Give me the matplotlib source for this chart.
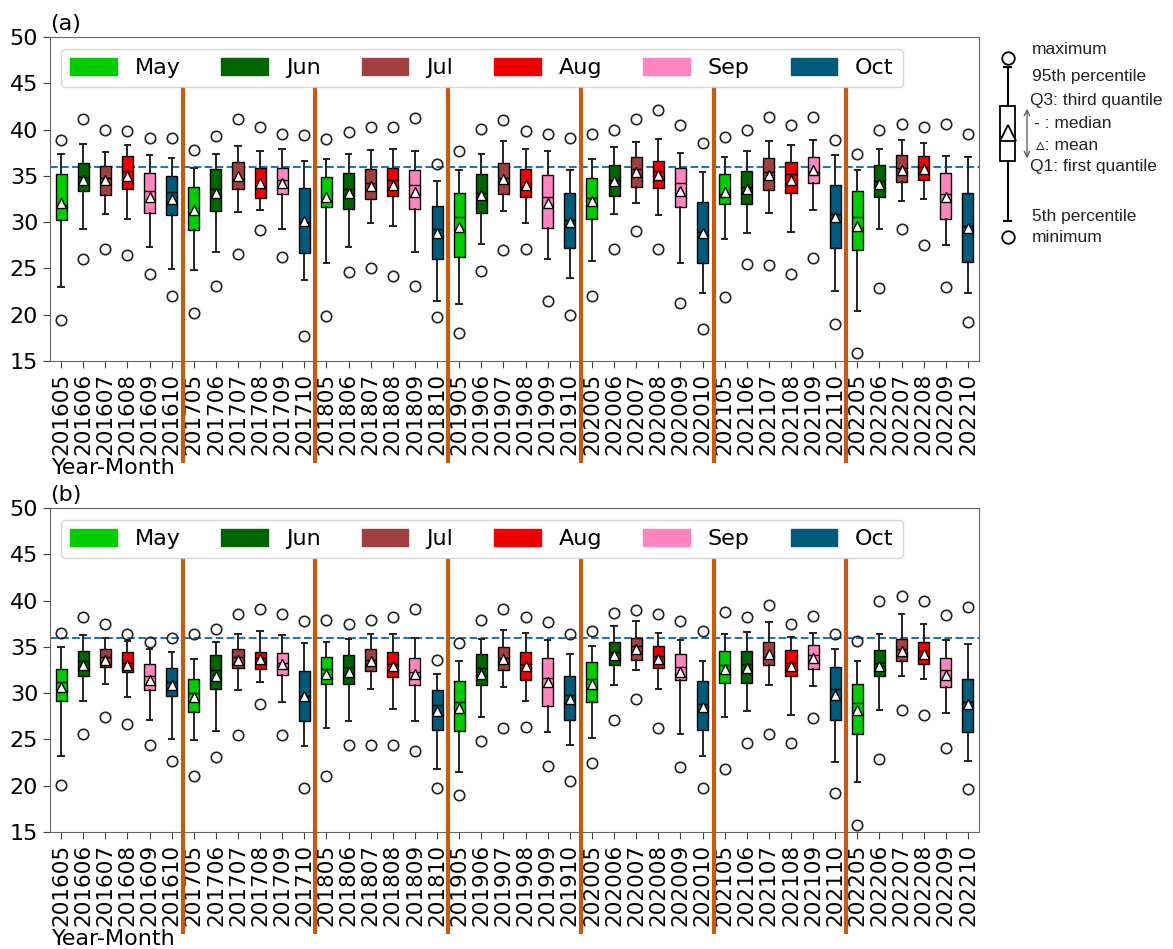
import numpy as np
import matplotlib.pyplot as plt
from matplotlib.patches import Patch, FancyArrowPatch

years = [2016, 2017, 2018, 2019, 2020, 2021, 2022]
months = ["05", "06", "07", "08", "09", "10"]
month_names = ["May", "Jun", "Jul", "Aug", "Sep", "Oct"]
month_colors = ["#00cc00", "#006400", "#a0403f", "#ee0000", "#ff85c0", "#005a7a"]
labels = [f"{y}{m}" for y in years for m in months]
threshold = 36

# panel (a)
a_max = [38.85, 41.1, 39.9, 39.8, 39.1, 39.05, 37.8, 39.3, 41.1, 40.3, 39.55, 39.4,
         38.95, 39.7, 40.3, 40.3, 41.2, 36.3, 37.7, 40.1, 41.0, 39.85, 39.55, 39.1,
         39.55, 39.9, 41.1, 42.15, 40.45, 38.5, 39.15, 39.9, 41.35, 40.5, 41.35, 38.9,
         37.35, 39.9, 40.65, 40.3, 40.6, 39.55]
a_p95 = [37.4, 38.45, 37.6, 38.3, 37.2, 36.9, 35.9, 37.4, 38.25, 37.7, 37.85, 36.65,
         36.8, 37.35, 37.8, 37.85, 37.65, 34.45, 35.6, 37.4, 38.8, 37.85, 37.65, 35.6,
         36.85, 38.1, 38.65, 39.0, 37.5, 35.45, 37.05, 37.7, 38.8, 38.3, 38.85, 37.2,
         35.6, 37.85, 38.9, 38.6, 37.1, 37.05]
a_q3 = [35.15, 36.4, 36.1, 37.1, 35.35, 34.95, 33.8, 35.7, 36.45, 35.8, 35.9, 33.65,
        34.9, 35.35, 35.7, 35.8, 35.6, 31.75, 33.1, 35.25, 36.4, 35.7, 35.05, 33.15,
        34.8, 36.15, 37.0, 36.6, 35.9, 32.2, 35.15, 35.55, 36.9, 36.5, 37.0, 34.0,
        33.35, 36.2, 37.2, 37.1, 35.3, 33.2]
a_med = [31.8, 34.9, 34.8, 35.5, 33.4, 33.3, 30.95, 33.6, 34.7, 33.8, 34.6, 30.0,
         32.3, 33.55, 34.25, 34.6, 34.0, 29.3, 30.6, 33.1, 34.8, 33.8, 32.75, 30.2,
         32.6, 34.6, 35.7, 35.5, 34.25, 28.9, 33.0, 33.8, 35.4, 35.2, 35.4, 30.9,
         30.6, 34.4, 35.9, 36.0, 33.0, 29.6]
a_mean = [32.1, 34.5, 34.5, 35.0, 32.75, 32.45, 31.3, 33.1, 35.0, 34.25, 34.2, 30.1,
          32.75, 33.15, 33.95, 34.05, 33.3, 28.8, 29.5, 32.9, 34.65, 34.05, 32.1, 30.05,
          32.25, 34.4, 35.4, 35.1, 33.4, 28.8, 33.25, 33.55, 35.1, 34.6, 35.6, 30.6,
          29.6, 34.1, 35.6, 35.7, 32.75, 29.4]
a_q1 = [30.2, 33.35, 32.9, 33.6, 30.95, 30.75, 29.15, 31.2, 33.55, 32.65, 33.0, 26.7,
        31.6, 31.4, 32.5, 32.8, 31.4, 26.05, 26.25, 31.0, 33.0, 32.75, 29.4, 27.25,
        30.3, 32.8, 33.8, 33.7, 31.65, 25.6, 31.95, 31.95, 33.45, 33.1, 34.25, 27.25,
        26.95, 32.75, 34.35, 34.55, 30.3, 25.7]
a_p5 = [22.95, 29.25, 30.9, 30.35, 27.35, 24.9, 24.8, 26.8, 31.05, 31.35, 29.3, 23.8,
        25.6, 27.35, 29.95, 29.55, 26.8, 21.5, 21.15, 27.6, 31.2, 29.95, 26.0, 24.0,
        25.85, 30.9, 32.1, 30.75, 25.55, 22.35, 28.15, 28.8, 31.0, 28.9, 31.3, 22.55,
        20.35, 29.3, 32.3, 32.5, 27.5, 22.35]
a_min = [19.4, 26.05, 27.15, 26.4, 24.35, 22.0, 20.15, 23.15, 26.6, 29.15, 26.25, 17.7,
         19.9, 24.65, 25.05, 24.2, 23.05, 19.7, 18.05, 24.75, 26.95, 27.05, 21.5, 19.95,
         22.05, 27.05, 29.05, 27.05, 21.3, 18.45, 21.95, 25.45, 25.35, 24.4, 26.1, 18.95,
         15.9, 22.9, 29.3, 27.5, 22.95, 19.2]

# panel (b)
b_max = [36.5, 38.2, 37.45, 36.4, 35.5, 35.95, 36.4, 36.95, 38.5, 39.1, 38.6, 37.75,
         37.85, 37.45, 37.95, 38.2, 39.1, 33.55, 35.45, 37.9, 39.05, 38.2, 37.65, 36.35,
         36.7, 38.7, 38.95, 38.5, 37.8, 36.7, 38.75, 38.2, 39.5, 37.5, 38.35, 36.4,
         35.65, 39.95, 40.5, 40.0, 38.4, 39.3]
b_p95 = [35.0, 36.3, 36.0, 35.6, 34.75, 34.45, 33.7, 35.5, 36.35, 36.7, 36.25, 35.4,
         35.5, 35.9, 36.4, 36.4, 35.95, 32.05, 33.45, 35.9, 36.85, 36.55, 35.7, 34.25,
         35.05, 37.25, 37.8, 36.5, 35.7, 33.45, 36.4, 36.6, 37.7, 36.05, 36.5, 34.8,
         33.45, 36.35, 38.5, 37.5, 35.7, 35.35]
b_q3 = [32.65, 34.6, 34.8, 34.45, 33.2, 32.75, 31.55, 34.15, 34.8, 34.45, 34.3, 32.35,
        33.9, 34.15, 34.8, 34.45, 33.75, 30.3, 31.3, 34.25, 34.95, 34.45, 33.8, 31.8,
        33.35, 35.5, 35.95, 35.05, 34.25, 31.3, 34.6, 34.6, 35.5, 34.7, 35.15, 32.8,
        31.0, 34.7, 35.9, 35.5, 33.8, 31.55]
b_med = [31.2, 33.5, 33.9, 33.3, 31.8, 31.2, 30.0, 32.5, 33.9, 33.8, 33.3, 29.7,
         32.6, 32.8, 33.6, 33.1, 32.3, 28.7, 29.0, 32.7, 33.8, 33.2, 31.6, 29.8,
         31.5, 34.4, 35.1, 34.0, 32.8, 28.8, 33.0, 33.1, 33.9, 33.3, 34.1, 30.5,
         28.9, 33.3, 34.8, 34.5, 32.5, 29.0]
b_mean = [30.65, 33.0, 33.55, 33.0, 31.4, 30.85, 29.6, 31.9, 33.6, 33.65, 33.2, 29.65,
          32.05, 32.25, 33.45, 32.9, 32.05, 28.05, 28.4, 32.1, 33.7, 32.95, 31.2, 29.4,
          31.0, 34.1, 34.8, 33.7, 32.3, 28.5, 32.65, 32.75, 34.25, 32.95, 33.8, 29.85,
          28.15, 32.95, 34.6, 34.25, 32.0, 28.85]
b_q1 = [29.2, 31.8, 32.8, 32.3, 30.3, 29.7, 27.95, 30.5, 32.75, 32.65, 32.0, 27.0,
        31.0, 31.0, 32.35, 31.75, 30.85, 26.05, 25.9, 30.85, 32.45, 31.45, 28.6, 27.05,
        29.05, 33.0, 33.6, 32.7, 31.4, 26.05, 31.1, 31.1, 33.0, 31.9, 32.6, 27.05,
        25.6, 31.85, 33.45, 33.1, 30.65, 25.85]
b_p5 = [23.2, 29.1, 31.0, 29.6, 27.05, 25.1, 24.9, 25.9, 30.3, 31.15, 29.0, 24.25,
        26.25, 27.0, 30.4, 28.3, 26.95, 21.8, 21.45, 27.4, 30.65, 29.1, 25.8, 24.35,
        25.15, 30.85, 32.55, 30.4, 25.55, 23.25, 27.4, 28.1, 30.85, 27.6, 30.8, 22.55,
        20.4, 28.2, 31.8, 31.5, 27.85, 22.7]
b_min = [20.1, 25.6, 27.4, 26.7, 24.45, 22.65, 21.0, 23.1, 25.45, 28.85, 25.5, 19.8,
         21.1, 24.35, 24.35, 24.45, 23.7, 19.75, 18.95, 24.8, 26.25, 26.35, 22.15, 20.5,
         22.5, 27.1, 29.4, 26.25, 22.0, 19.7, 21.85, 24.6, 25.6, 24.65, 27.35, 19.25,
         15.8, 22.85, 28.2, 27.6, 24.05, 19.6]

# schematic key box (arbitrary units)
key_vals = dict(fliers=[20.2, 2.3], whishi=19.3, q3=15.4, med=12.3, mean=12.7, q1=9.9, whislo=3.9)
key_texts = ["maximum", "95th percentile", "Q3: third quantile", "- : median",
             "\u25b5: mean", "Q1: first quantile", "5th percentile", "minimum"]


def make_stats(vmax, p95, q3, med, mean, q1, p5, vmin):
    stats = []
    for i in range(len(med)):
        stats.append(dict(med=med[i], q1=q1[i], q3=q3[i], whislo=p5[i], whishi=p95[i],
                          mean=mean[i], fliers=[vmin[i], vmax[i]]))
    return stats


def draw_panel(ax, stats, tag):
    pos = np.arange(1, len(stats) + 1)
    bp = ax.bxp(stats, positions=pos, widths=0.5, patch_artist=True,
                showmeans=True, showfliers=True,
                boxprops=dict(edgecolor="black", linewidth=1),
                medianprops=dict(color="black", linewidth=1),
                whiskerprops=dict(color="#222222", linewidth=1.4),
                capprops=dict(color="#222222", linewidth=1.4),
                meanprops=dict(marker="^", markerfacecolor="white",
                               markeredgecolor="black", markersize=6.5),
                flierprops=dict(marker="o", markerfacecolor="none",
                                markeredgecolor="#222222", markersize=7.5,
                                markeredgewidth=1.2))
    for i, box in enumerate(bp["boxes"]):
        box.set_facecolor(month_colors[i % 6])

    ax.axhline(threshold, ls="--", color="#1f77b4", lw=1.5, zorder=1)
    ax.vlines(np.arange(6.5, len(stats), 6), 4, 44.6, colors="#c55a11", lw=3,
              clip_on=False, zorder=3)

    ax.set_xlim(0.5, len(stats) + 0.5)
    ax.set_ylim(15, 50)
    ax.set_yticks(np.arange(15, 51, 5))
    ax.set_xticks(pos)
    ax.set_xticklabels(labels, rotation=90, fontsize=15.5)
    ax.tick_params(axis="y", labelsize=16)
    ax.tick_params(length=5, color="#444444")
    for s in ax.spines.values():
        s.set_color("#666666")

    handles = [Patch(facecolor=c, edgecolor=c) for c in month_colors]
    ax.legend(handles, month_names, ncol=6, loc="upper left",
              bbox_to_anchor=(0.012, 0.963), borderaxespad=0, fontsize=16,
              handlelength=2.1, handleheight=0.8, columnspacing=1.85,
              handletextpad=0.8)

    ax.text(0.0, 1.01, tag, transform=ax.transAxes, ha="left", va="bottom", fontsize=16)
    ax.text(0.002, -0.33, "Year-Month", transform=ax.transAxes, ha="left",
            va="center", fontsize=16)


W, H = 1173, 949
fig = plt.figure(figsize=(W / 100, H / 100), dpi=100)

ax_a = fig.add_axes([50 / W, 1 - 361 / H, 929 / W, 324 / H])
ax_b = fig.add_axes([50 / W, 1 - 832 / H, 929 / W, 324 / H])

draw_panel(ax_a, make_stats(a_max, a_p95, a_q3, a_med, a_mean, a_q1, a_p5, a_min), "(a)")
draw_panel(ax_b, make_stats(b_max, b_p95, b_q3, b_med, b_mean, b_q1, b_p5, b_min), "(b)")

# schematic key on the right
ax_k = fig.add_axes([985 / W, 1 - 260 / H, 45 / W, 230 / H])
ax_k.bxp([key_vals], positions=[1], widths=0.33, patch_artist=True,
         showmeans=True, showfliers=True,
         boxprops=dict(facecolor="white", edgecolor="black", linewidth=1.3),
         medianprops=dict(color="black", linewidth=1.2),
         whiskerprops=dict(color="black", linewidth=1.5),
         capprops=dict(color="black", linewidth=1.5),
         meanprops=dict(marker="^", markerfacecolor="white",
                        markeredgecolor="black", markersize=11, markeredgewidth=1.3),
         flierprops=dict(marker="o", markerfacecolor="none",
                         markeredgecolor="black", markersize=9, markeredgewidth=1.3))
ax_k.set_xlim(0.5, 1.5)
ax_k.set_ylim(0, 23)
ax_k.axis("off")

text_y = [50, 76, 101, 124, 145, 166, 217, 238]
text_x = [1032, 1032, 1030, 1034, 1036, 1030, 1032, 1032]
for tx, ty, s in zip(text_x, text_y, key_texts):
    fig.text(tx / W, 1 - ty / H, s, ha="left", va="center", fontsize=12.5,
             family=["Liberation Sans", "DejaVu Sans"], color="#222222")

fig.add_artist(FancyArrowPatch((1027 / W, 1 - 106 / H), (1027 / W, 1 - 161 / H),
                               transform=fig.transFigure, arrowstyle="<->",
                               mutation_scale=10, color="#555555", lw=0.9))

fig.savefig("out.png", dpi=100)
